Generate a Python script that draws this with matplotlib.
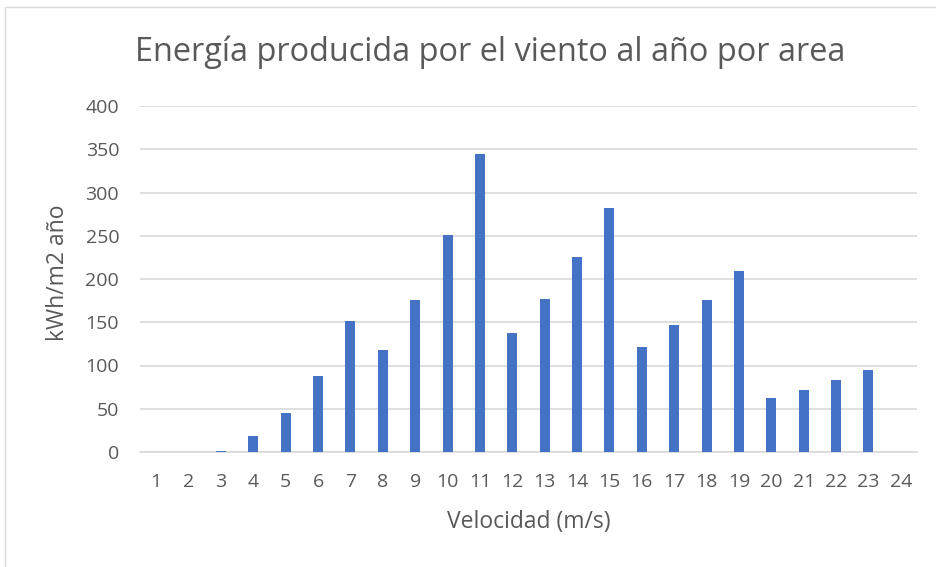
"""
Energía producida por el viento al año por area - bar chart
"""

import numpy as np
import matplotlib.pyplot as plt
from matplotlib.patches import Rectangle

velocidad = list(range(1, 25))
energia = [0, 0, 1, 19, 45, 88, 152, 118, 176, 251, 345, 137,
           177, 226, 282, 121, 147, 176, 209, 62, 72, 83, 95, 0]

gris = "#595959"
plt.rcParams['font.family'] = ['Open Sans', 'DejaVu Sans']

fig = plt.figure(figsize=(9.36, 5.67), dpi=100)
W, H = 936, 567
ax = fig.add_axes([140 / W, 1 - 452 / H, (917 - 140) / W, (452 - 106) / H])

x = np.arange(len(velocidad))
ax.bar(x, energia, width=0.31, color="#4472C4", zorder=3)

ax.set_xlim(-0.5, len(velocidad) - 0.5)
ax.set_ylim(0, 400)
ax.set_yticks(range(0, 401, 50))
ax.set_xticks(x)
ax.set_xticklabels([str(v) for v in velocidad])
ax.grid(axis="y", color="#d9d9d9", linewidth=1.2, zorder=0)
for s in ["top", "right", "left"]:
    ax.spines[s].set_visible(False)
ax.spines["bottom"].set_color("#d9d9d9")
ax.spines["bottom"].set_linewidth(1.2)
ax.tick_params(length=0, labelsize=14, labelcolor=gris)
ax.tick_params(axis="x", pad=15)
ax.tick_params(axis="y", pad=15)

ax.set_xlabel("Velocidad (m/s)", fontsize=16.5, color=gris, va="center")
ax.set_ylabel("kWh/m2 año", fontsize=16.5, color=gris, va="center")
ax.xaxis.set_label_coords(0.5, (452 - 522) / 346)
ax.yaxis.set_label_coords((58 - 140) / 777, (452 - 273) / 346)
fig.text(490 / W, 1 - 52 / H, "Energía producida por el viento al año por area",
         fontsize=23.4, color=gris, ha="center", va="center")

# chart border
fig.patches.append(Rectangle((5 / W, -0.1), 1.2, 1 - 7 / H + 0.1,
                             transform=fig.transFigure, fill=False,
                             edgecolor="#d9d9d9", linewidth=1))

fig.savefig("out.png", dpi=100)
